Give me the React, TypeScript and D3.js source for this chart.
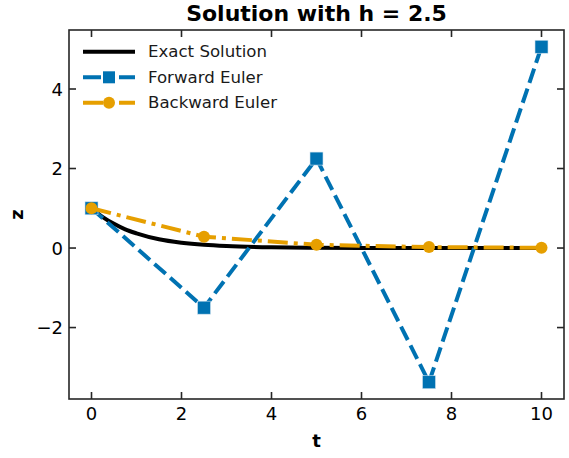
import React from "react";
import * as d3 from "d3";

const stepT = [0, 2.5, 5, 7.5, 10];
const forwardZ = [1, -1.5, 2.25, -3.375, 5.0625];
const backwardZ = [1, 0.2857, 0.0816, 0.0233, 0.0067];
const exactT = [0, 0.25, 0.5, 0.75, 1, 1.5, 2, 2.5, 3, 4, 5, 6, 7, 8, 10];
const exactZ = [1, 0.78, 0.61, 0.47, 0.37, 0.22, 0.135, 0.082, 0.05, 0.018, 0.007, 0.0025, 0.001, 0.0003, 0.00005];
const xTicks = [0, 2, 4, 6, 8, 10];
const yTicks = [-2, 0, 2, 4];
const legendLabels = ["Exact Solution", "Forward Euler", "Backward Euler"];

const W = 569, H = 458;
const L = 69, R = 564, T = 30, B = 399;
const BLUE = "#0072B2", ORANGE = "#E69F00";
const FONT = "DejaVu Sans, sans-serif";

export default function App() {
  const x = d3.scaleLinear().domain([-0.5, 10.5]).range([L, R]);
  const y = d3.scaleLinear().domain([-3.797, 5.484]).range([B, T]);
  const lineGen = d3.line<[number, number]>().x(d => x(d[0])).y(d => y(d[1]));
  const exactLine = d3.line<[number, number]>().x(d => x(d[0])).y(d => y(d[1])).curve(d3.curveMonotoneX);
  const exactPts = exactT.map((t, i) => [t, exactZ[i]] as [number, number]);
  const fwdPts = stepT.map((t, i) => [t, forwardZ[i]] as [number, number]);
  const bwdPts = stepT.map((t, i) => [t, backwardZ[i]] as [number, number]);
  const tick = 7;
  const lw = 4;
  const dashed = "15,6";
  const dashdot = "20,6,4,6";
  const legY = [51.7, 77.3, 102.7];
  const lx1 = 83, lx2 = 135, lmid = 109;
  const sq = 13;
  const cr = 6;
  return (
    <svg width={W} height={H} style={{ position: "absolute", left: 0, top: 0 }}>
      <rect width={W} height={H} fill="#fff" />
      <defs>
        <clipPath id="plot"><rect x={L} y={T} width={R - L} height={B - T} /></clipPath>
      </defs>
      <text x={(L + R) / 2} y={21.3} textAnchor="middle" fontFamily={FONT} fontWeight="bold" fontSize={22}>Solution with h = 2.5</text>
      <g clipPath="url(#plot)">
        <path d={exactLine(exactPts) || ""} fill="none" stroke="#000" strokeWidth={4} />
        <path d={lineGen(fwdPts) || ""} fill="none" stroke={BLUE} strokeWidth={lw} strokeDasharray={dashed} />
        {fwdPts.map((p, i) => (
          <rect key={i} x={x(p[0]) - sq / 2} y={y(p[1]) - sq / 2} width={sq} height={sq} fill={BLUE} stroke="#cfe2ee" strokeWidth={0.6} />
        ))}
        <path d={lineGen(bwdPts) || ""} fill="none" stroke={ORANGE} strokeWidth={lw} strokeDasharray={dashdot} />
        {bwdPts.map((p, i) => (
          <circle key={i} cx={x(p[0])} cy={y(p[1])} r={cr} fill={ORANGE} />
        ))}
      </g>
      <rect x={L} y={T} width={R - L} height={B - T} fill="none" stroke="#262626" strokeWidth={1.6} />
      {xTicks.map(t => (
        <g key={t}>
          <line x1={x(t)} x2={x(t)} y1={B} y2={B - tick} stroke="#262626" strokeWidth={1.6} />
          <line x1={x(t)} x2={x(t)} y1={T} y2={T + tick} stroke="#262626" strokeWidth={1.6} />
          <text x={x(t)} y={413.5} textAnchor="middle" dominantBaseline="central" fontFamily={FONT} fontSize={18} fill="#000">{t}</text>
        </g>
      ))}
      {yTicks.map(t => (
        <g key={t}>
          <line x1={L} x2={L + tick} y1={y(t)} y2={y(t)} stroke="#262626" strokeWidth={1.6} />
          <line x1={R} x2={R - tick} y1={y(t)} y2={y(t)} stroke="#262626" strokeWidth={1.6} />
          <text x={63} y={y(t)} textAnchor="end" dominantBaseline="central" fontFamily={FONT} fontSize={18} fill="#000">{t < 0 ? "\u2212" + Math.abs(t) : t}</text>
        </g>
      ))}
      <text x={(L + R) / 2} y={440} textAnchor="middle" dominantBaseline="central" fontFamily={FONT} fontWeight="bold" fontSize={18}>t</text>
      <text transform={`translate(16,${(T + B) / 2}) rotate(-90)`} textAnchor="middle" dominantBaseline="central" fontFamily={FONT} fontWeight="bold" fontSize={18}>z</text>
      {legendLabels.map((lab, i) => (
        <g key={lab}>
          {i === 0 && <line x1={lx1} x2={lx2} y1={legY[i]} y2={legY[i]} stroke="#000" strokeWidth={4} />}
          {i === 1 && (
            <g>
              <line x1={lx1} x2={lx2} y1={legY[i]} y2={legY[i]} stroke={BLUE} strokeWidth={lw} strokeDasharray="18,6,6,6" />
              <rect x={lmid - 6} y={legY[i] - 6} width={12} height={12} fill={BLUE} />
            </g>
          )}
          {i === 2 && (
            <g>
              <line x1={lx1} x2={lx2} y1={legY[i]} y2={legY[i]} stroke={ORANGE} strokeWidth={lw} strokeDasharray="20,6,4,6" />
              <circle cx={lmid} cy={legY[i]} r={cr} fill={ORANGE} />
            </g>
          )}
          <text x={148} y={legY[i]} dominantBaseline="central" fontFamily={FONT} fontSize={16.6} fill="#1a1a1a">{lab}</text>
        </g>
      ))}
    </svg>
  );
}
